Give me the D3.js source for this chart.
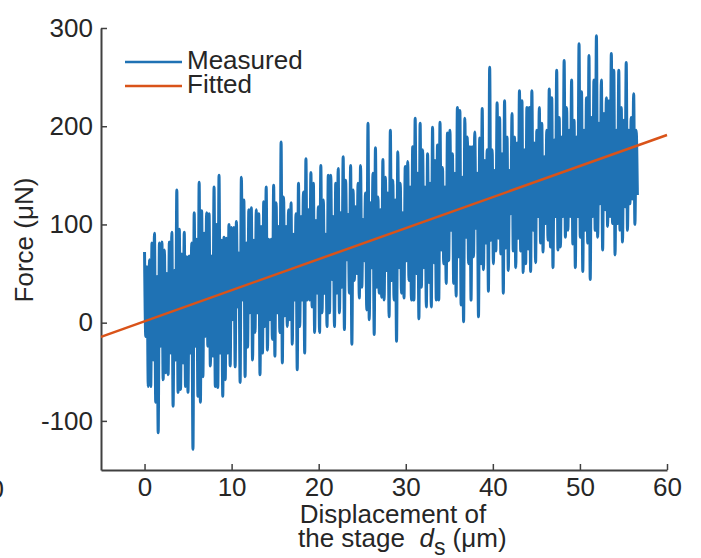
<!DOCTYPE html>
<html>
<head>
<meta charset="utf-8">
<script src="https://cdn.jsdelivr.net/npm/d3@7"></script>
<style>
  body { margin: 0; background: #fff; }
  text { font-family: "Liberation Sans", Arial, sans-serif; fill: #262626; }
</style>
</head>
<body>
<svg id="chart" width="701" height="558"></svg>
<script>
// tick values
var xTicks = [0, 10, 20, 30, 40, 50, 60];
var yTicks = [-100, 0, 100, 200, 300];

var peaks = [
  72,57,64,81,91,47,81,82,74,50,82,92,53,135,95,70,92,67,68,81,112,85,143,114,91,112,111,68,138,100,150,84,87,86,100,97,
  97,103,71,148,125,81,115,117,84,115,111,98,123,138,85,85,140,122,98,184,128,98,115,122,90,111,142,108,133,167,115,153,142,104,118,160,125,90,150,
  150,108,142,157,112,169,145,110,160,135,118,142,160,105,132,203,122,152,178,128,115,166,148,132,196,145,125,174,142,112,159,164,138,179,208,152,203,176,138,
  172,142,199,165,181,204,158,138,193,196,172,152,219,216,148,208,189,179,179,194,152,188,218,165,176,260,176,155,224,209,172,226,189,155,213,189,183,236,226,176,219,
  219,236,183,196,219,203,169,196,238,229,186,257,209,189,267,219,196,247,206,189,284,235,196,229,272,209,247,292,203,247,213,229,226,274,257,196,257,219,206,265,196,209,233,196
];
var troughs = [
  -14,-65,-65,-38,-81,-112,-24,-58,-51,-53,-31,-85,-38,-71,-68,-41,-65,-71,-31,-129,-24,-75,-81,-55,-14,-24,-44,-34,-65,-66,-31,-75,-58,-31,-44,3,
  -45,16,-61,23,-55,-25,10,-38,-10,10,-53,-31,-4,-28,3,-17,-34,10,-10,-41,7,-4,3,-22,23,-48,-4,23,-31,23,23,16,-10,30,-10,10,30,-4,10,
  44,-4,30,10,36,-7,64,30,-22,43,50,25,36,63,13,3,56,-12,36,30,26,23,53,6,43,23,-19,56,30,25,63,43,23,23,50,4,36,56,16,
  41,16,61,23,23,74,60,40,63,94,40,27,67,18,1,87,60,23,67,96,6,60,54,81,32,84,60,73,86,70,30,76,53,111,73,56,86,73,51,60,75,
  52,94,61,108,81,72,101,84,77,56,108,74,77,108,87,94,108,80,56,108,87,52,94,81,44,108,94,87,121,74,115,98,108,101,69,101,94,82,118,94,121,126,100,130
];
// stage displacement covered by the measurement (um)
var dispStart = 0, dispEnd = 56.6;

// fitted line end points
var fitX = [-5, 60];
var fitY = [-14.4, 191.1];

var fontSize = "26px";
var svg = d3.select("#chart");

var x = d3.scaleLinear().domain([-5, 60]).range([101, 667]);
var y = d3.scaleLinear().domain([-150, 300]).range([470, 28]);

// interleave peaks and troughs into one trace
var force = [];
peaks.forEach(function(p, i) {
  force.push(p);
  force.push(troughs[i]);
});
var step = (dispEnd - dispStart) / (force.length - 1);
var measured = force.map(function(f, i) { return [dispStart + i * step, f]; });
var fitted = fitX.map(function(d, i) { return [d, fitY[i]]; });

var line = d3.line().x(d => x(d[0])).y(d => y(d[1]));

// axes
svg.append("g")
  .attr("transform", "translate(0," + y.range()[0] + ")")
  .attr("color", "#404040")
  .call(d3.axisBottom(x).tickValues(xTicks).tickSizeInner(-6).tickSizeOuter(0).tickPadding(8));
svg.append("g")
  .attr("transform", "translate(" + x.range()[0] + ",0)")
  .attr("color", "#404040")
  .call(d3.axisLeft(y).tickValues(yTicks).tickFormat(d => d < 0 ? "-" + Math.abs(d) : d)
    .tickSizeInner(-6).tickSizeOuter(0).tickPadding(8));
svg.selectAll(".domain").attr("stroke-width", 2);
svg.selectAll(".tick line").attr("stroke-width", 1.5);
svg.selectAll(".tick text").style("font-size", fontSize).attr("fill", "#262626");

// stray label cut off at left edge
svg.append("text").attr("x", 4).attr("y", 498).attr("text-anchor", "end")
  .style("font-size", fontSize).text("0");

// data
svg.append("path").datum(measured)
  .attr("d", line.curve(d3.curveMonotoneX))
  .attr("fill", "none")
  .attr("stroke", "#1f72b4")
  .attr("stroke-width", 3)
  .attr("stroke-linejoin", "round");

svg.append("path").datum(fitted)
  .attr("d", line.curve(d3.curveLinear))
  .attr("fill", "none")
  .attr("stroke", "#d95319")
  .attr("stroke-width", 2.5);

// legend
var legend = svg.append("g");
legend.append("line").attr("x1", 125).attr("x2", 182).attr("y1", 62).attr("y2", 62)
  .attr("stroke", "#1f72b4").attr("stroke-width", 2.5);
legend.append("line").attr("x1", 125).attr("x2", 182).attr("y1", 86).attr("y2", 86)
  .attr("stroke", "#d95319").attr("stroke-width", 2.5);
legend.append("text").attr("x", 187).attr("y", 69).style("font-size", fontSize).text("Measured");
legend.append("text").attr("x", 187).attr("y", 93).style("font-size", fontSize).text("Fitted");

// axis labels
svg.append("text")
  .attr("transform", "translate(33,240) rotate(-90)")
  .attr("text-anchor", "middle")
  .style("font-size", fontSize)
  .text("Force (μN)");

svg.append("text").attr("x", 393).attr("y", 523).attr("text-anchor", "middle")
  .style("font-size", fontSize).text("Displacement of");
var xl = svg.append("text").attr("x", 298).attr("y", 547).style("font-size", fontSize);
xl.append("tspan").text("the stage\u00a0\u00a0");
xl.append("tspan").style("font-style", "italic").text("d");
xl.append("tspan").attr("dy", 8).style("font-size", "23px").text("s");
xl.append("tspan").attr("dy", -8).text("\u00a0(μm)");
</script>
</body>
</html>
